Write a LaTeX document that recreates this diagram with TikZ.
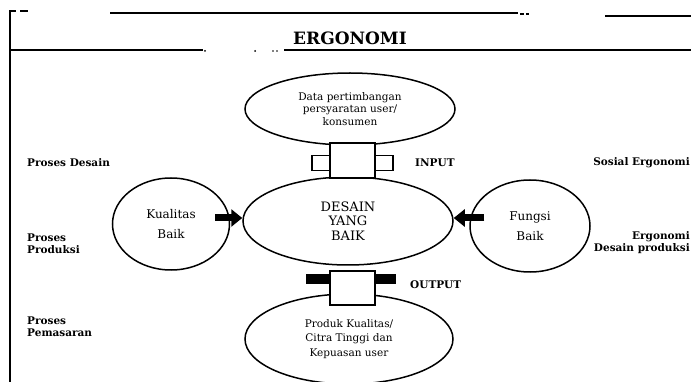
\documentclass[tikz,border=0pt]{standalone}
\usepackage{fontspec}
\setmainfont{DejaVu Serif}
\usetikzlibrary{shapes.geometric,arrows.meta}
\begin{document}
\begin{tikzpicture}[x=1pt,y=-1pt,
  oval/.style={draw,ellipse,line width=1.5pt,inner sep=0pt,align=center,fill=white},
  blockbox/.style={draw,rectangle,line width=1.4pt,fill=white,inner sep=0pt,minimum width=45pt,minimum height=35pt},
  wing/.style={draw,rectangle,line width=1.4pt,inner sep=0pt},
  rule/.style={line width=1.5pt},
  lbl/.style={font=\fontsize{10.5}{12}\selectfont\bfseries,inner sep=0pt,align=left},
  bigarrow/.style={line width=7pt,-{Triangle[length=11pt,width=17pt]}}]
\useasboundingbox (0,0) rectangle (691,382);
% frame
\draw[rule] (10,382) -- (10,11) -- (16,11);
\draw[rule] (20,11) -- (28,11);
\draw[rule] (110,13) -- (518,13);
\draw[rule] (520,14) -- (524,14) (526,14) -- (529,14);
\draw[rule] (605,16) -- (691,16);
\draw[rule] (10,50) -- (203,50);
\fill (205,51) circle (1pt) (255,51) circle (1pt) (273,51) circle (0.8pt) (277,51) circle (0.8pt);
\draw[rule] (284,50) -- (691,50);
\node[font=\fontsize{17}{19}\selectfont\bfseries,inner sep=0pt] (title) at (350,38) {ERGONOMI};
% ovals and block arrows
\node[oval,minimum width=210pt,minimum height=72pt,font=\fontsize{10.5}{12.5}\selectfont] (data) at (350,109)
  {Data pertimbangan\\persyaratan user/\\konsumen};
\node[oval,minimum width=210pt,minimum height=88pt,font=\fontsize{13}{14.5}\selectfont] (desain) at (348,221)
  {DESAIN\\YANG\\BAIK};
\node[blockbox] (inbox) at (352.5,160.5) {};
\node[wing,fill=white,minimum width=18pt,minimum height=15pt] (inwl) at (321,163) {};
\node[wing,fill=white,minimum width=18pt,minimum height=15pt] (inwr) at (384,163) {};
\node[oval,minimum width=208pt,minimum height=90pt,font=\fontsize{10.5}{14.5}\selectfont] (produk) at (349,339)
  {Produk Kualitas/\\Citra Tinggi dan\\Kepuasan user};
\node[blockbox,minimum height=34pt] (outbox) at (352.5,288) {};
\node[wing,fill=black,minimum width=23pt,minimum height=8pt] (outwl) at (318.5,279) {};
\node[wing,fill=black,minimum width=20pt,minimum height=8pt] (outwr) at (385,279) {};
\node[oval,minimum width=117pt,minimum height=92pt,font=\fontsize{12}{20}\selectfont] (kualitas) at (171,224)
  {Kualitas\\Baik};
\node[oval,minimum width=120pt,minimum height=92pt,font=\fontsize{12}{20}\selectfont] (fungsi) at (530,226)
  {Fungsi\\Baik};
% connectors
\draw[bigarrow] ([xshift=-15pt,yshift=6pt]kualitas.east) -- ([yshift=3pt]desain.west);
\draw[bigarrow] ([xshift=15pt,yshift=8pt]fungsi.west) -- ([yshift=3pt]desain.east);
% labels
\node[lbl,anchor=west] (pdes) at (27,163) {Proses Desain};
\node[lbl,anchor=west] (pprod) at (27,244) {Proses\\Produksi};
\node[lbl,anchor=west] (ppem) at (27,327) {Proses\\Pemasaran};
\node[lbl,anchor=west] (input) at (415,163) {INPUT};
\node[lbl,anchor=west] (output) at (410,285) {OUTPUT};
\node[lbl,anchor=east] (sosial) at (690,163) {Sosial Ergonomi};
\node[lbl,anchor=east,align=right] (ergo) at (690,243) {Ergonomi\\Desain produksi};
\end{tikzpicture}
\end{document}
